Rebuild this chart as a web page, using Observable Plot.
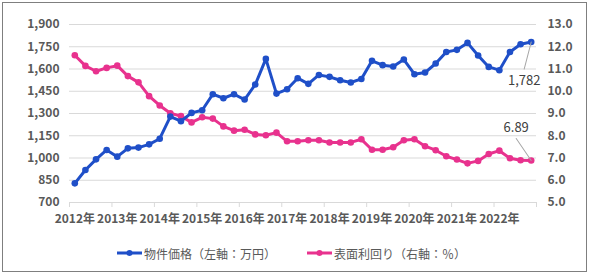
<!DOCTYPE html>
<html><head><meta charset="utf-8">
<script src="https://cdn.jsdelivr.net/npm/d3@7"></script>
<script src="https://cdn.jsdelivr.net/npm/@observablehq/plot@0.6"></script>
<style>
body{margin:0;background:#fff;font-family:"Noto Sans CJK JP","Noto Sans",sans-serif;}
#wrap{position:relative;width:590px;height:273px;overflow:hidden;}
#frame{position:absolute;left:2px;top:2px;width:585px;height:270px;border:1px solid #7f7f7f;box-sizing:border-box;pointer-events:none;}
#chart{position:absolute;left:0;top:0;}
.leg{position:absolute;top:244px;height:18px;display:flex;align-items:center;font-size:12px;color:#595959;white-space:nowrap;}
.leg svg{display:block;margin-right:2px;}
</style></head><body>
<div id="wrap"><div id="chart"></div><div id="frame"></div>
<div class="leg" id="leg1" style="left:117px"></div>
<div class="leg" id="leg2" style="left:307px"></div>
</div>
<script>
const years = ["2012年","2013年","2014年","2015年","2016年","2017年","2018年","2019年","2020年","2021年","2022年"];
// quarterly property price (left axis, 万円)
const price = [829,919,991,1054,1009,1065,1070,1092,1130,1279,1248,
  1304,1322,1430,1403,1430,1394,1495,1668,1434,1463,1538,
  1500,1560,1547,1524,1509,1533,1655,1626,1617,1664,1565,
  1576,1637,1715,1729,1776,1691,1614,1592,1715,1767,1782];
// quarterly gross yield (right axis, %)
const yieldPct = [11.62,11.14,10.9,11.05,11.15,10.68,10.4,9.78,9.36,9.01,8.88,
  8.6,8.83,8.77,8.42,8.23,8.27,8.06,8.02,8.14,7.75,7.75,
  7.8,7.8,7.7,7.7,7.7,7.84,7.37,7.37,7.48,7.8,7.84,
  7.53,7.35,7.08,6.93,6.76,6.87,7.18,7.33,6.99,6.9,6.89];
const leftTicks = [700,850,1000,1150,1300,1450,1600,1750,1900];
const rightTicks = [5,6,7,8,9,10,11,12,13];
const priceName = "物件価格（左軸：万円）";
const yieldName = "表面利回り（右軸：％）";

const blue = "#1f4fc8", pink = "#e8328e";
const toLeft = v => 700 + (v - 5) * 150;
const n = price.length;
const xi = (d, i) => i + 0.5;
const tickPos = d3.range(0, n + 1, 4);
const labelPos = years.map((_, i) => i * 4 + 0.5);
const lead = {draw(ctx, l) { ctx.moveTo(0, 0); ctx.lineTo(0, -l); }};

const plot = Plot.plot({
  width: 590, height: 273,
  marginLeft: 69, marginRight: 54, marginTop: 24, marginBottom: 71,
  style: {fontFamily: '"Noto Sans CJK JP","Noto Sans",sans-serif', fontSize: "12px", background: "transparent"},
  x: {domain: [0, n]},
  y: {domain: [700, 1900]},
  marks: [
    Plot.gridY(leftTicks, {stroke: "#d9d9d9", strokeOpacity: 1, strokeWidth: 1}),
    Plot.axisX(tickPos, {tickSize: 5, tickFormat: () => "", stroke: "#d9d9d9"}),
    Plot.axisX(labelPos, {tickSize: 0, tickPadding: 12, tickFormat: d => years[(d - 0.5) / 4], fill: "#595959", fontWeight: "bold", fontSize: 12}),
    Plot.axisY(leftTicks, {anchor: "left", tickSize: 0, tickPadding: 10, tickFormat: d3.format(","), fill: "#595959", fontWeight: "bold", fontSize: 12}),
    Plot.axisY(rightTicks.map(toLeft), {anchor: "right", tickSize: 0, tickPadding: 11, tickFormat: d => ((d - 700) / 150 + 5).toFixed(1), fill: "#595959", fontWeight: "bold", fontSize: 12}),
    Plot.line(yieldPct, {x: xi, y: d => toLeft(d), stroke: pink, strokeWidth: 3}),
    Plot.dot(yieldPct, {x: xi, y: d => toLeft(d), r: 3.3, fill: pink}),
    Plot.line(price, {x: xi, y: d => d, stroke: blue, strokeWidth: 3}),
    Plot.dot(price, {x: xi, y: d => d, r: 3.3, fill: blue}),
    Plot.vector([price[n - 1]], {x: n - 0.5, y: d => d, length: 28, rotate: 194.5, anchor: "start", shape: lead, stroke: "#a6a6a6", strokeWidth: 1}),
    Plot.vector([yieldPct[n - 1]], {x: n - 0.5, y: d => toLeft(d), length: 26.6, rotate: 325.7, anchor: "start", shape: lead, stroke: "#a6a6a6", strokeWidth: 1}),
    Plot.text([price[n - 1]], {x: n - 0.5, y: d => d, text: d => d3.format(",")(d), dx: -7, dy: 39, fill: "#404040", fontSize: 13}),
    Plot.text([yieldPct[n - 1]], {x: n - 0.5, y: d => toLeft(d), text: d => d.toFixed(2), dx: -15, dy: -33, fill: "#404040", fontSize: 13})
  ]
});
document.getElementById("chart").append(plot);

function swatch(color) {
  return `<svg width="25" height="10"><line x1="0" y1="5" x2="25" y2="5" stroke="${color}" stroke-width="3"/><circle cx="12.5" cy="5" r="3" fill="${color}"/></svg>`;
}
document.getElementById("leg1").innerHTML = swatch(blue) + `<span>${priceName}</span>`;
document.getElementById("leg2").innerHTML = swatch(pink) + `<span>${yieldName}</span>`;
</script>
</body></html>
